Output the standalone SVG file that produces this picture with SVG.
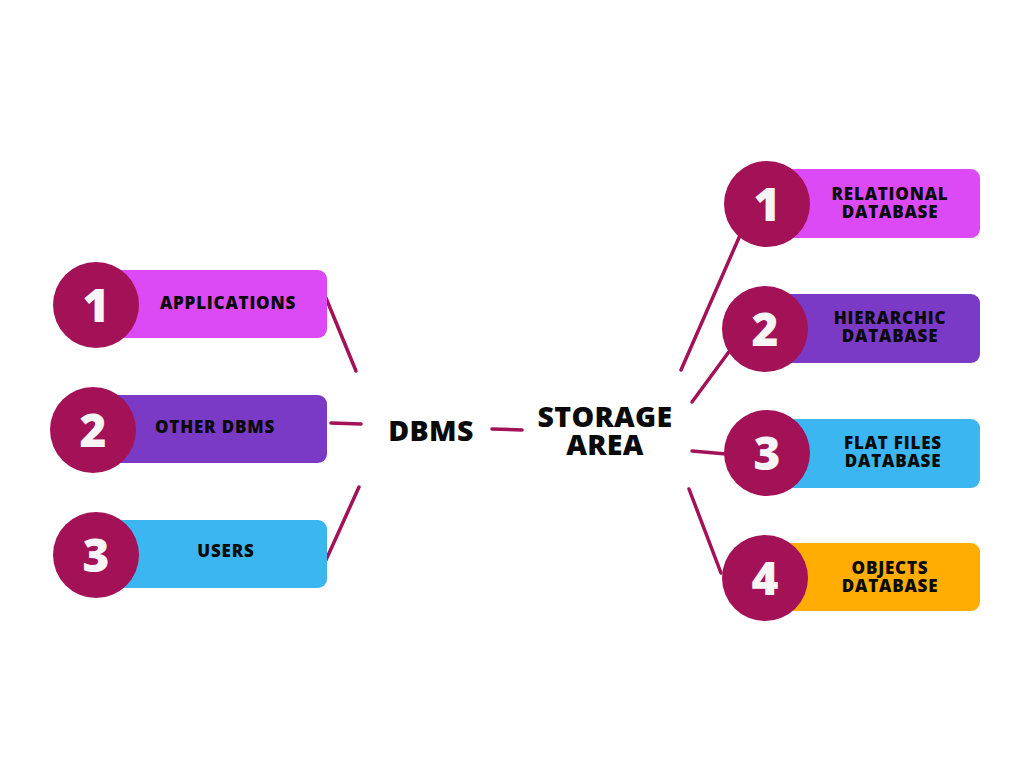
<svg xmlns="http://www.w3.org/2000/svg" width="1024" height="768" viewBox="0 0 1024 768">
<style>
.lbl{font-family:"Open Sans","Liberation Sans",sans-serif;font-weight:800;font-size:17px;letter-spacing:0.8px;fill:#0a0a0a;text-anchor:middle}
.big{font-family:"Open Sans","Liberation Sans",sans-serif;font-weight:800;font-size:28.5px;letter-spacing:0.3px;fill:#0a0a0a;text-anchor:middle}
.num{font-family:"Open Sans","Liberation Sans",sans-serif;font-weight:800;font-size:46px;fill:#f6f4f5;text-anchor:middle}
.circ{fill:#a31157}
.conn{stroke:#a31157;stroke-width:3.5;stroke-linecap:round;fill:none}
</style>
<rect width="1024" height="768" fill="#ffffff"/>
<g id="connectors">
<line class="conn" x1="326" y1="298" x2="356" y2="371"/>
<line class="conn" x1="331" y1="423" x2="361" y2="424"/>
<line class="conn" x1="359" y1="487" x2="326" y2="560"/>
<line class="conn" x1="492" y1="429" x2="522" y2="430"/>
<line class="conn" x1="681" y1="370" x2="741" y2="233"/>
<line class="conn" x1="692" y1="402" x2="731" y2="349"/>
<line class="conn" x1="692" y1="451" x2="726" y2="454"/>
<line class="conn" x1="689" y1="489" x2="721" y2="573"/>
</g>
<g id="applications">
<rect x="100" y="270" width="227" height="68" rx="9" fill="#db4af4"/>
<circle class="circ" cx="96" cy="305" r="43"/>
<text class="num" x="96" y="322">1</text>
<text class="lbl" x="228" y="309">APPLICATIONS</text>
</g>
<g id="other-dbms">
<rect x="100" y="395" width="227" height="68" rx="9" fill="#7a3ac6"/>
<circle class="circ" cx="93" cy="430" r="43"/>
<text class="num" x="93" y="447">2</text>
<text class="lbl" x="215" y="433">OTHER DBMS</text>
</g>
<g id="users">
<rect x="100" y="520" width="227" height="68" rx="9" fill="#3cb6f0"/>
<circle class="circ" cx="96" cy="555" r="43"/>
<text class="num" x="96" y="572">3</text>
<text class="lbl" x="226" y="557">USERS</text>
</g>
<g id="dbms">
<text class="big" x="431" y="441">DBMS</text>
</g>
<g id="storage-area">
<text class="big" x="605" y="427">STORAGE</text>
<text class="big" x="605" y="455">AREA</text>
</g>
<g id="relational">
<rect x="780" y="169" width="200" height="69" rx="9" fill="#db4af4"/>
<circle class="circ" cx="767" cy="204" r="43"/>
<text class="num" x="767" y="221">1</text>
<text class="lbl" x="890" y="200">RELATIONAL</text>
<text class="lbl" x="890" y="218">DATABASE</text>
</g>
<g id="hierarchic">
<rect x="780" y="294" width="200" height="69" rx="9" fill="#7a3ac6"/>
<circle class="circ" cx="765" cy="329" r="43"/>
<text class="num" x="765" y="346">2</text>
<text class="lbl" x="890" y="324">HIERARCHIC</text>
<text class="lbl" x="890" y="342">DATABASE</text>
</g>
<g id="flat-files">
<rect x="780" y="419" width="200" height="69" rx="9" fill="#3cb6f0"/>
<circle class="circ" cx="767" cy="453" r="43"/>
<text class="num" x="767" y="470">3</text>
<text class="lbl" x="893" y="449">FLAT FILES</text>
<text class="lbl" x="893" y="467">DATABASE</text>
</g>
<g id="objects">
<rect x="780" y="543" width="200" height="68" rx="9" fill="#ffad03"/>
<circle class="circ" cx="765" cy="578" r="43"/>
<text class="num" x="765" y="595">4</text>
<text class="lbl" x="890" y="574">OBJECTS</text>
<text class="lbl" x="890" y="592">DATABASE</text>
</g>
</svg>
